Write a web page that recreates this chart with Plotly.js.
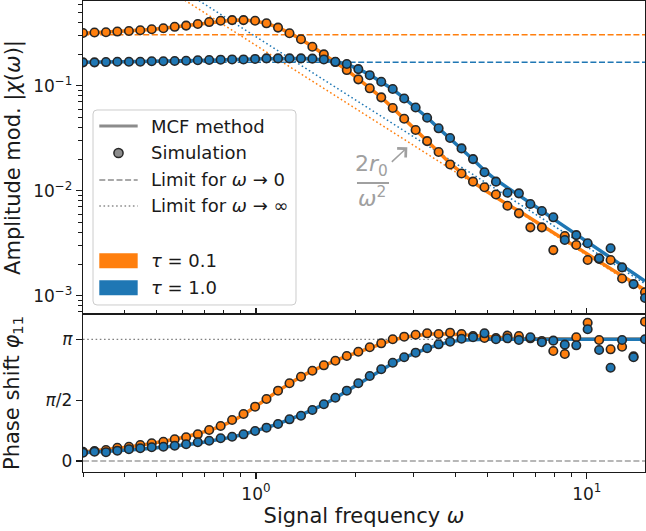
<!DOCTYPE html>
<html>
<head>
<meta charset="utf-8">
<script src="https://cdn.plot.ly/plotly-3.0.1.min.js"></script>
<style>html,body{margin:0;padding:0;background:#fff;}#chart{width:646px;height:531px;}</style>
</head>
<body>
<div id="chart"></div>
<script>
// ---------- data ----------
const omega = [0.300,0.325,0.352,0.381,0.413,0.447,0.484,0.525,0.568,0.615,0.667,0.722,0.782,0.847,0.917,0.994,1.076,1.166,1.263,1.368,1.481,1.604,1.738,1.882,2.039,2.208,2.392,2.591,2.806,3.039,3.292,3.566,3.862,4.183,4.531,4.907,5.315,5.757,6.236,6.754,7.316,7.924,8.583,9.297,10.063,10.900,11.806,12.788,13.851,15.000];

const ampSimTau01 = [0.318,0.321,0.323,0.328,0.332,0.338,0.345,0.353,0.364,0.374,0.387,0.404,0.416,0.422,0.422,0.416,0.393,0.358,0.316,0.277,0.235,0.199,0.168,0.141,0.115,0.0945,0.0775,0.0613,0.0485,0.0379,0.0297,0.0234,0.0178,0.0146,0.0122,0.0108,0.0092,0.0072,0.00609,0.00448,0.00448,0.00272,0.00370,0.00304,0.00219,0.00224,0.00219,0.00146,0.000613,0.00108];
const ampSimTau10 = [0.167,0.167,0.168,0.169,0.169,0.169,0.171,0.171,0.172,0.173,0.175,0.176,0.177,0.178,0.178,0.180,0.182,0.182,0.182,0.182,0.181,0.178,0.169,0.161,0.144,0.126,0.109,0.093,0.0755,0.0620,0.0496,0.0393,0.0318,0.0253,0.0200,0.0150,0.0122,0.00957,0.00944,0.00747,0.00641,0.00558,0.00339,0.00378,0.00316,0.00227,0.00283,0.00186,0.00129,0.000951];

const ampMcfTau01 = [0.316,0.320,0.323,0.327,0.331,0.337,0.344,0.352,0.362,0.373,0.386,0.400,0.413,0.421,0.422,0.414,0.393,0.359,0.318,0.277,0.236,0.199,0.168,0.141,0.116,0.0950,0.0775,0.0615,0.0486,0.0382,0.0298,0.0234,0.0182,0.0147,0.0121,0.01016,0.00861,0.00739,0.00641,0.00546,0.00467,0.00397,0.00340,0.00291,0.00248,0.00211,0.00181,0.00155,0.00132,0.00113];
const ampMcfTau10 = [0.167,0.167,0.168,0.169,0.169,0.170,0.171,0.171,0.172,0.173,0.174,0.175,0.177,0.178,0.179,0.180,0.181,0.182,0.182,0.182,0.181,0.177,0.170,0.160,0.145,0.127,0.109,0.0925,0.0760,0.0620,0.0498,0.0394,0.0316,0.02523,0.01982,0.01557,0.01270,0.01070,0.00910,0.00764,0.00644,0.00540,0.00456,0.00384,0.00323,0.00271,0.00230,0.00194,0.00164,0.00138];

const phaseSimTau01 = [0.240,0.258,0.284,0.343,0.369,0.413,0.457,0.498,0.560,0.612,0.689,0.800,0.903,1.058,1.213,1.402,1.600,1.815,2.006,2.176,2.331,2.470,2.589,2.710,2.821,2.935,3.038,3.142,3.209,3.260,3.296,3.278,3.312,3.278,3.227,3.175,3.175,3.235,3.227,3.167,3.098,2.840,2.762,3.193,3.570,3.123,2.883,2.950,2.700,3.596];
const phaseSimTau10 = [0.214,0.240,0.225,0.266,0.302,0.328,0.354,0.369,0.395,0.431,0.483,0.524,0.586,0.627,0.689,0.774,0.860,0.955,1.076,1.169,1.316,1.464,1.634,1.815,2.006,2.194,2.367,2.537,2.677,2.796,2.909,3.012,3.080,3.157,3.193,3.296,3.142,3.167,3.123,3.193,3.064,3.106,3.003,2.986,3.400,2.865,2.408,3.123,2.677,3.142];

const phaseMcfTau01 = [0.235,0.262,0.292,0.325,0.362,0.404,0.451,0.503,0.562,0.627,0.700,0.789,0.895,1.030,1.195,1.390,1.600,1.810,2.005,2.178,2.333,2.470,2.591,2.706,2.815,2.925,3.030,3.125,3.195,3.245,3.272,3.282,3.278,3.262,3.238,3.212,3.190,3.172,3.160,3.152,3.147,3.144,3.142,3.142,3.142,3.142,3.142,3.142,3.142,3.142];
const phaseMcfTau10 = [0.215,0.230,0.246,0.264,0.284,0.306,0.330,0.356,0.386,0.420,0.458,0.503,0.555,0.617,0.690,0.772,0.862,0.960,1.070,1.190,1.318,1.460,1.628,1.810,2.000,2.185,2.360,2.525,2.668,2.792,2.905,3.005,3.075,3.120,3.138,3.142,3.142,3.142,3.142,3.142,3.142,3.142,3.142,3.142,3.142,3.142,3.142,3.142,3.142,3.142];

// limit lines (end points)
const limZeroX = [0.3, 15];
const limZeroTau01 = [0.306, 0.306];
const limZeroTau10 = [0.167, 0.167];
const limInfX = [0.5, 15];
const limInfTau01 = [0.968, 0.00108];
const limInfTau10 = [1.172, 0.00130];
const phaseRefX = [0.3, 15];
const phaseRefPi = [3.14159, 3.14159];
const phaseRefZero = [0, 0];

const xTickVals = [1, 10];
const xTickText = ['10<sup>0</sup>', '10<sup>1</sup>'];
const xMinorVals = [0.3,0.4,0.5,0.6,0.7,0.8,0.9,2,3,4,5,6,7,8,9];
const yTickVals = [0.001, 0.01, 0.1];
const yTickText = ['10<sup>−3</sup>', '10<sup>−2</sup>', '10<sup>−1</sup>'];
const yMinorVals = [0.0007,0.0008,0.0009,0.002,0.003,0.004,0.005,0.006,0.007,0.008,0.009,0.02,0.03,0.04,0.05,0.06,0.07,0.08,0.09,0.2,0.3,0.4,0.5,0.6];
const phaseTickVals = [0, Math.PI/2, Math.PI];
const phaseTickText = ['0', '<i>π</i>/2', '<i>π</i>'];

const legendLabels = ['MCF method', 'Simulation', 'Limit for <i>ω</i> → 0', 'Limit for <i>ω</i> → ∞', '<i>τ</i> = 0.1', '<i>τ</i> = 1.0'];

// ---------- styles ----------
const ORANGE = '#ff7f0e', BLUE = '#1f77b4', GRAY = '#8c8c8c', EDGE = '#262626', TXT = '#1a1a1a';
const FONT = 'DejaVu Sans, sans-serif';

function line(x, y, color, width, dash, xa, ya) {
  return {x: x, y: y, type: 'scatter', mode: 'lines', xaxis: xa, yaxis: ya,
    line: {color: color, width: width, dash: dash || 'solid'}, hoverinfo: 'skip', showlegend: false};
}
function pts(x, y, color, xa, ya) {
  return {x: x, y: y, type: 'scatter', mode: 'markers', xaxis: xa, yaxis: ya,
    marker: {color: color, size: 8.5, line: {color: EDGE, width: 1.6}}, hoverinfo: 'skip', showlegend: false};
}

const DASH = '6px,2.6px', DOT = '1.6px,2.6px';

const traces = [
  line(limZeroX, limZeroTau01, ORANGE, 1.5, DASH, 'x', 'y'),
  line(limZeroX, limZeroTau10, BLUE, 1.5, DASH, 'x', 'y'),
  line(limInfX, limInfTau01, ORANGE, 1.5, DOT, 'x', 'y'),
  line(limInfX, limInfTau10, BLUE, 1.5, DOT, 'x', 'y'),
  line(omega, ampMcfTau01, ORANGE, 3.5, null, 'x', 'y'),
  line(omega, ampMcfTau10, BLUE, 3.5, null, 'x', 'y'),
  pts(omega, ampSimTau01, ORANGE, 'x', 'y'),
  pts(omega, ampSimTau10, BLUE, 'x', 'y'),

  line(phaseRefX, phaseRefPi, '#808080', 1.2, DOT, 'x2', 'y2'),
  line(phaseRefX, phaseRefZero, '#a0a0a0', 1.5, DASH, 'x2', 'y2'),
  line(omega, phaseMcfTau01, ORANGE, 3.5, null, 'x2', 'y2'),
  line(omega, phaseMcfTau10, BLUE, 3.5, null, 'x2', 'y2'),
  pts(omega, phaseSimTau01, ORANGE, 'x2', 'y2'),
  pts(omega, phaseSimTau10, BLUE, 'x2', 'y2')
];

const XR = [Math.log10(0.3), Math.log10(15)];
const axBase = {showgrid: false, zeroline: false, showline: true, mirror: true, linecolor: TXT, linewidth: 1.2,
  tickcolor: TXT, tickwidth: 1.1, tickfont: {family: FONT, size: 17, color: TXT}, automargin: false};

const SPLIT = 0.3355;

// legend geometry (paper coords)
const LB = {x0: 0.0178, x1: 0.379, y0: 0.3546, y1: 0.7686};
const rx = 4/562, ry = 4/471;
const boxPath = `M${LB.x0+rx},${LB.y0} L${LB.x1-rx},${LB.y0} Q${LB.x1},${LB.y0} ${LB.x1},${LB.y0+ry} L${LB.x1},${LB.y1-ry} Q${LB.x1},${LB.y1} ${LB.x1-rx},${LB.y1} L${LB.x0+rx},${LB.y1} Q${LB.x0},${LB.y1} ${LB.x0},${LB.y1-ry} L${LB.x0},${LB.y0+ry} Q${LB.x0},${LB.y0} ${LB.x0+rx},${LB.y0} Z`;
const sx0 = 0.0290, sx1 = 0.0973;
const rowY = [0.7346, 0.6773, 0.6200, 0.5648, 0.4484, 0.3911];

const shapes = [
  {type: 'path', xref: 'paper', yref: 'paper', path: boxPath, fillcolor: 'rgba(255,255,255,0.85)', line: {color: '#cccccc', width: 1}, layer: 'above'},
  {type: 'line', xref: 'paper', yref: 'paper', x0: sx0, x1: sx1, y0: rowY[0], y1: rowY[0], line: {color: GRAY, width: 3}, layer: 'above'},
  {type: 'circle', xref: 'paper', yref: 'paper', xsizemode: 'pixel', ysizemode: 'pixel', xanchor: (sx0+sx1)/2, yanchor: rowY[1], x0: -4.6, x1: 4.6, y0: -4.6, y1: 4.6, fillcolor: GRAY, line: {color: EDGE, width: 1.5}, layer: 'above'},
  {type: 'line', xref: 'paper', yref: 'paper', x0: sx0, x1: sx1, y0: rowY[2], y1: rowY[2], line: {color: GRAY, width: 1.5, dash: DASH}, layer: 'above'},
  {type: 'line', xref: 'paper', yref: 'paper', x0: sx0, x1: sx1, y0: rowY[3], y1: rowY[3], line: {color: GRAY, width: 1.5, dash: DOT}, layer: 'above'},
  {type: 'rect', xref: 'paper', yref: 'paper', x0: sx0, x1: sx1, y0: rowY[4]-0.0159, y1: rowY[4]+0.0159, fillcolor: ORANGE, line: {width: 0}, layer: 'above'},
  {type: 'rect', xref: 'paper', yref: 'paper', x0: sx0, x1: sx1, y0: rowY[5]-0.0159, y1: rowY[5]+0.0159, fillcolor: BLUE, line: {width: 0}, layer: 'above'},
  // fraction bar of the 2r0/ω² note
  {type: 'line', xref: 'paper', yref: 'paper', x0: 0.4875, x1: 0.5445, y0: 0.6136, y1: 0.6136, line: {color: '#a0a0a0', width: 1.8}, layer: 'above'}
];

const annotations = legendLabels.map((t, i) => ({
  xref: 'paper', yref: 'paper', x: 0.118, y: rowY[i], xanchor: 'left', yanchor: 'middle', showarrow: false,
  text: t, font: {family: FONT, size: 18, color: TXT}
}));
annotations.push(
  {xref: 'paper', yref: 'paper', x: 0.5142, y: 0.6497, xanchor: 'center', yanchor: 'middle', showarrow: false,
   text: '2<i>r</i><sub>0</sub>', font: {family: FONT, size: 22, color: '#a0a0a0'}},
  {xref: 'paper', yref: 'paper', x: 0.5142, y: 0.584, xanchor: 'center', yanchor: 'middle', showarrow: false,
   text: '<i>ω</i><sup>2</sup>', font: {family: FONT, size: 22, color: '#a0a0a0'}},
  {xref: 'paper', yref: 'paper', x: 0.5771, y: 0.6894, text: '', showarrow: true, ax: -17, ay: 16,
   arrowhead: 4, arrowsize: 1.6, arrowwidth: 1.5, arrowcolor: '#a0a0a0', standoff: 0}
);

const layout = {
  width: 646, height: 531,
  margin: {l: 83, r: 1, t: 1, b: 59},
  paper_bgcolor: '#ffffff', plot_bgcolor: '#ffffff',
  font: {family: FONT, color: TXT},
  showlegend: false,
  xaxis: Object.assign({}, axBase, {type: 'log', range: XR, domain: [0, 1], anchor: 'y',
    tickmode: 'array', tickvals: xTickVals, ticktext: xTickText, showticklabels: false,
    ticks: 'inside', ticklen: 6,
    minor: {tickmode: 'array', tickvals: xMinorVals, ticks: 'inside', ticklen: 3.5, tickwidth: 1, tickcolor: TXT}}),
  yaxis: Object.assign({}, axBase, {type: 'log', range: [-3.174, -0.193], domain: [SPLIT, 1], anchor: 'x',
    tickmode: 'array', tickvals: yTickVals, ticktext: yTickText, ticks: 'outside', ticklen: 6,
    minor: {tickmode: 'array', tickvals: yMinorVals, ticks: 'outside', ticklen: 3.5, tickwidth: 1, tickcolor: TXT},
    title: {text: 'Amplitude mod. |<i>χ</i>(<i>ω</i>)|', font: {family: FONT, size: 21, color: TXT}, standoff: 6}}),
  xaxis2: Object.assign({}, axBase, {type: 'log', range: XR, domain: [0, 1], anchor: 'y2',
    tickmode: 'array', tickvals: xTickVals, ticktext: xTickText, ticks: 'outside', ticklen: 6,
    minor: {tickmode: 'array', tickvals: xMinorVals, ticks: 'outside', ticklen: 3.5, tickwidth: 1, tickcolor: TXT},
    title: {text: 'Signal frequency <i>ω</i>', font: {family: FONT, size: 21, color: TXT}, standoff: 5}}),
  yaxis2: Object.assign({}, axBase, {range: [-0.284, 3.795], domain: [0, SPLIT], anchor: 'x2',
    tickmode: 'array', tickvals: phaseTickVals, ticktext: phaseTickText, ticks: 'outside', ticklen: 6,
    title: {text: 'Phase shift <i>φ</i><sub>11</sub>', font: {family: FONT, size: 21, color: TXT}, standoff: 20}}),
  shapes: shapes,
  annotations: annotations
};

Plotly.newPlot('chart', traces, layout, {staticPlot: true, displayModeBar: false});
</script>
</body>
</html>
